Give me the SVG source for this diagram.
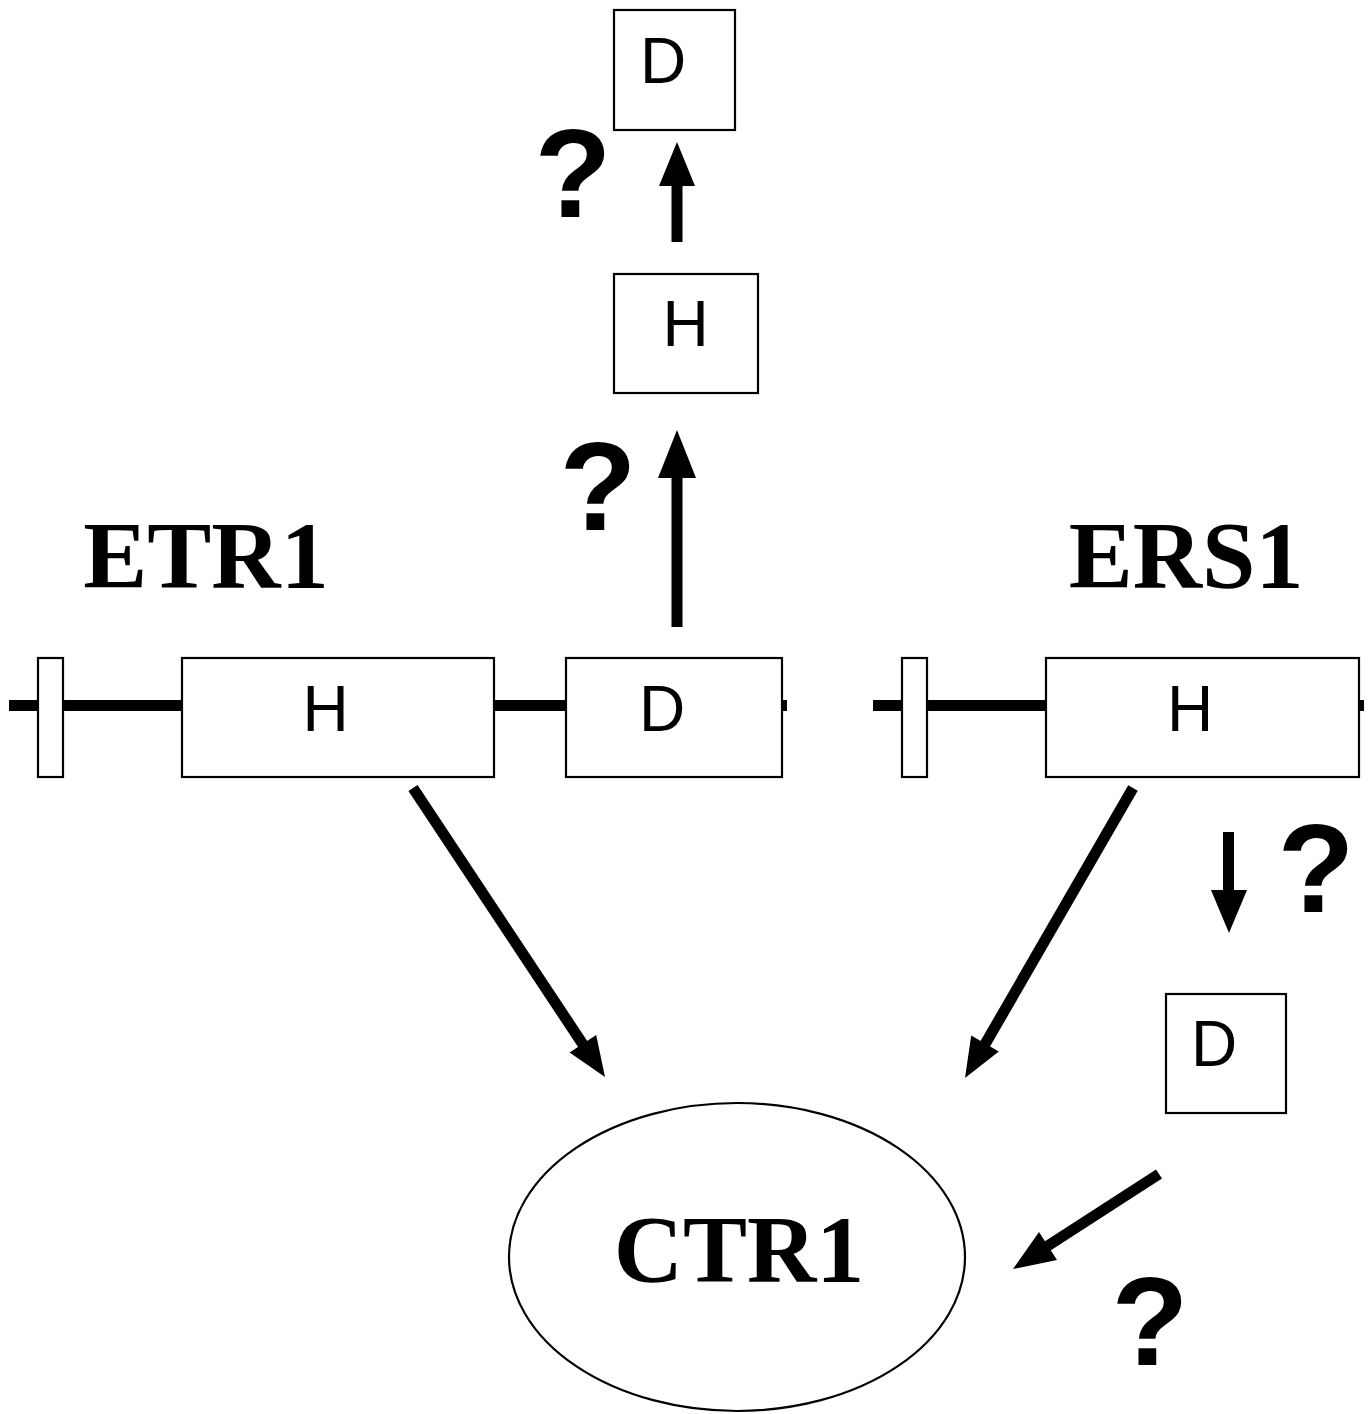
<svg xmlns="http://www.w3.org/2000/svg" width="1369" height="1414" viewBox="0 0 1369 1414">
  <style>
    .box { fill: #fff; stroke: #000; stroke-width: 2.2; }
    .dom { font-family: "Liberation Sans", Arial, sans-serif; font-size: 64px; text-anchor: middle; fill: #000; }
    .name { font-family: "Liberation Serif", "Times New Roman", serif; font-weight: bold; font-size: 96px; text-anchor: middle; fill: #000; }
    .q { font-family: "Liberation Sans", Arial, sans-serif; font-weight: bold; font-size: 126px; text-anchor: middle; fill: #000; }
    .shaft { stroke: #000; fill: none; stroke-width: 11; }
    .head { fill: #000; }
  </style>

  <rect width="1369" height="1414" fill="#fff"/>

  <!-- connectors -->
  <g id="connectors">
    <!-- lower D to upper H/D chain -->
    <line class="shaft" x1="677" y1="627" x2="677" y2="474"/>
    <polygon class="head" points="677,430 658,478 696,478"/>
    <line class="shaft" x1="677" y1="242" x2="677" y2="182"/>
    <polygon class="head" points="677,142 659,186 695,186"/>
    <!-- ETR1 H to CTR1 -->
    <line class="shaft" stroke-width="10" x1="413" y1="788" x2="584" y2="1046"/>
    <polygon class="head" points="605,1077 596.2,1034.9 569.6,1052.5"/>
    <!-- ERS1 H to CTR1 -->
    <line class="shaft" stroke-width="10" x1="1133" y1="788" x2="984" y2="1046"/>
    <polygon class="head" points="965,1078 998.8,1051.4 971.2,1035.4"/>
    <!-- ERS1 H down to D -->
    <line class="shaft" x1="1228.5" y1="832" x2="1228.5" y2="892"/>
    <polygon class="head" points="1211,890 1247,890 1229,933"/>
    <!-- D to CTR1 -->
    <line class="shaft" stroke-width="13" x1="1159" y1="1174" x2="1046" y2="1247"/>
    <polygon class="head" points="1013,1269 1057,1260 1039,1232"/>
  </g>

  <!-- ETR1 backbone -->
  <g id="etr1">
    <line class="shaft" x1="9" y1="705.5" x2="787" y2="705.5"/>
    <rect class="box" x="38" y="658" width="25" height="119"/>
    <rect id="etr1-h" class="box" x="182" y="658" width="312" height="119"/>
    <text class="dom" x="325.5" y="731">H</text>
    <rect id="etr1-d" class="box" x="566" y="658" width="216" height="119"/>
    <text class="dom" x="662" y="731">D</text>
    <text class="name" x="206" y="588">ETR1</text>
  </g>

  <!-- ERS1 backbone -->
  <g id="ers1">
    <line class="shaft" x1="873" y1="705.5" x2="1364" y2="705.5"/>
    <rect class="box" x="902" y="658" width="25" height="119"/>
    <rect id="ers1-h" class="box" x="1046" y="658" width="313" height="119"/>
    <text class="dom" x="1190" y="731">H</text>
    <text class="name" x="1186" y="588">ERS1</text>
  </g>

  <!-- separate H and D modules above -->
  <g id="upper-h">
    <rect class="box" x="614" y="274" width="144" height="119"/>
    <text class="dom" x="685.5" y="346">H</text>
  </g>
  <g id="upper-d">
    <rect class="box" x="614" y="10" width="121" height="120"/>
    <text class="dom" x="663" y="83">D</text>
  </g>

  <!-- separate D module on the right -->
  <g id="right-d">
    <rect class="box" x="1166" y="994" width="120" height="119"/>
    <text class="dom" x="1214" y="1066">D</text>
  </g>

  <!-- CTR1 -->
  <g id="ctr1">
    <ellipse class="box" cx="737" cy="1257" rx="228" ry="154"/>
    <text class="name" x="739" y="1282">CTR1</text>
  </g>

  <!-- uncertain steps -->
  <g id="questions">
    <text class="q" x="573" y="217">?</text>
    <text class="q" x="598" y="530">?</text>
    <text class="q" x="1316" y="912">?</text>
    <text class="q" x="1150" y="1365">?</text>
  </g>
</svg>
